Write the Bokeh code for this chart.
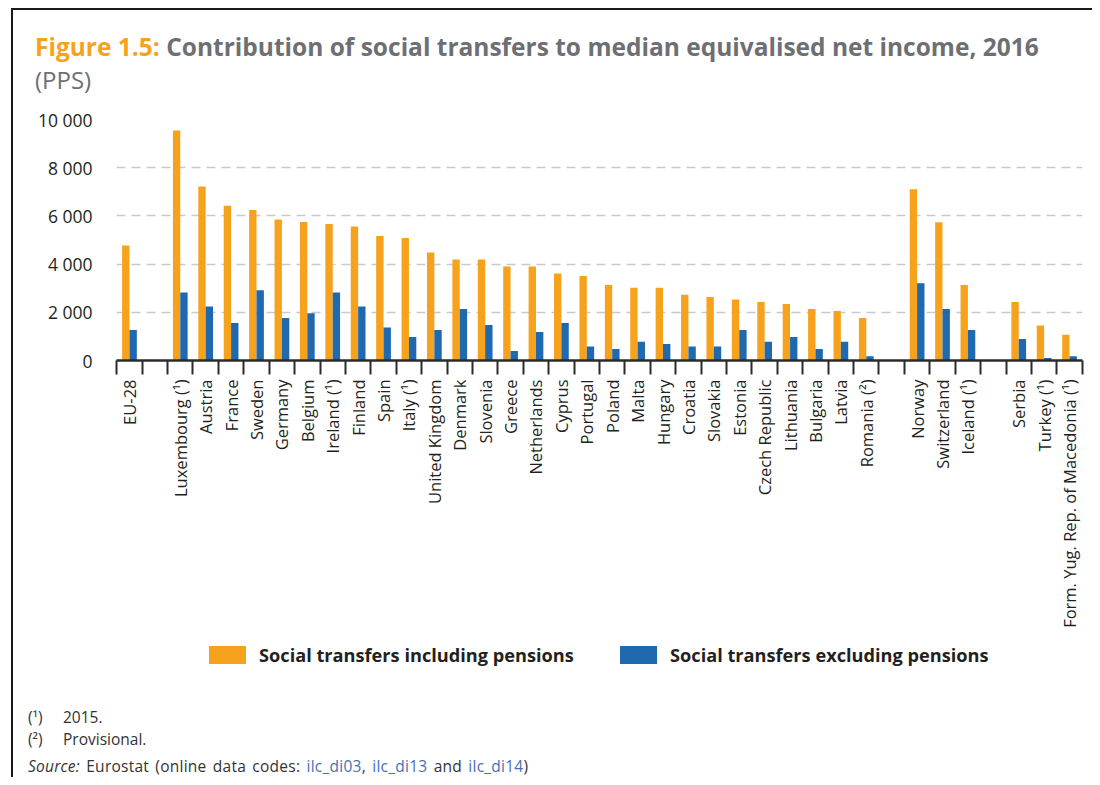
import math
from bokeh.plotting import figure
from bokeh.layouts import column
from bokeh.models import Range1d, FixedTicker, Div
from bokeh.embed import file_html
from bokeh.resources import INLINE

# ---------------- data ----------------
countries = [
    "EU-28",
    "Luxembourg (¹)", "Austria", "France", "Sweden", "Germany", "Belgium",
    "Ireland (¹)", "Finland", "Spain", "Italy (¹)", "United Kingdom", "Denmark",
    "Slovenia", "Greece", "Netherlands", "Cyprus", "Portugal", "Poland", "Malta",
    "Hungary", "Croatia", "Slovakia", "Estonia", "Czech Republic", "Lithuania",
    "Bulgaria", "Latvia", "Romania (²)",
    "Norway", "Switzerland", "Iceland (¹)",
    "Serbia", "Turkey (¹)", "Form. Yug. Rep. of Macedonia (¹)",
]
group_sizes = [1, 28, 3, 3]
incl_pensions = [
    4770,
    9540, 7220, 6420, 6240, 5850, 5750, 5660, 5560, 5170, 5080, 4480, 4190,
    4190, 3900, 3900, 3610, 3510, 3130, 3020, 3020, 2730, 2630, 2530, 2430,
    2340, 2140, 2050, 1760,
    7110, 5740, 3130,
    2430, 1450, 1070,
]
excl_pensions = [
    1270,
    2820, 2240, 1560, 2920, 1760, 1960, 2820, 2240, 1370, 970, 1270, 2140,
    1470, 390, 1180, 1560, 580, 480, 780, 680, 580, 580, 1270, 780,
    970, 480, 780, 180,
    3210, 2140, 1270,
    890, 100, 180,
]
y_ticks = [0, 2000, 4000, 6000, 8000, 10000]
y_tick_labels = ["0", "2 000", "4 000", "6 000", "8 000", "10 000"]
series_labels = ["Social transfers including pensions",
                 "Social transfers excluding pensions"]
title_fig = "Figure 1.5:"
title_main = "Contribution of social transfers to median equivalised net income, 2016"
subtitle = "(PPS)"
notes = [("(¹)", "2015."), ("(²)", "Provisional.")]

# ---------------- styling ----------------
FONT = "Open Sans"
ORANGE = "#F7A21C"
BLUE = "#1F69B1"
DARK = "#231F20"
GRAY_T = "#6E6F73"
NOTE = "#333333"
LINK = "#4A6FB5"
WIDTH = 1079
series_colors = [ORANGE, BLUE]

slots = []
pos = 0
for gi, n in enumerate(group_sizes):
    for _ in range(n):
        slots.append(pos)
        pos += 1
    if gi < len(group_sizes) - 1:
        pos += 1
n_slots = pos
centers = [s + 0.5 for s in slots]
boundaries = list(range(n_slots + 1))
bw = 0.29

# ---------------- title ----------------
title_html = (
    f'<div style="position:relative;width:{WIDTH}px;height:95px;font-family:\'{FONT}\';">'
    f'<div style="position:absolute;left:22px;top:25px;font-size:24.5px;line-height:24.5px;'
    f'font-weight:bold;color:{GRAY_T};white-space:nowrap;">'
    f'<span style="color:{ORANGE}">{title_fig}</span> {title_main}</div>'
    f'<div style="position:absolute;left:22px;top:58px;font-size:24px;line-height:24px;'
    f'color:{GRAY_T};white-space:nowrap;">{subtitle}</div>'
    '</div>'
)
title_div = Div(text=title_html, width=WIDTH, height=95, margin=0)

# ---------------- chart ----------------
p = figure(frame_width=966, frame_height=241,
           x_range=Range1d(-0.01, n_slots + 0.01), y_range=Range1d(0, 10000),
           output_backend="svg", toolbar_location=None,
           min_border_left=103, min_border_right=10,
           min_border_top=14, min_border_bottom=280)
p.outline_line_color = None

p.vbar(x=[c - bw / 2 for c in centers], top=incl_pensions, width=bw,
       fill_color=ORANGE, line_color=None)
p.vbar(x=[c + bw / 2 for c in centers], top=excl_pensions, width=bw,
       fill_color=BLUE, line_color=None)

p.xgrid.visible = False
p.ygrid.ticker = FixedTicker(ticks=y_ticks)
p.ygrid.grid_line_color = "#C8C9CE"
p.ygrid.grid_line_dash = "9 6"
p.ygrid.grid_line_width = 1.5

p.yaxis.ticker = FixedTicker(ticks=y_ticks)
p.yaxis.major_label_overrides = {t: l for t, l in zip(y_ticks, y_tick_labels)}
p.yaxis.axis_line_color = None
p.yaxis.major_tick_line_color = None
p.yaxis.minor_tick_line_color = None
p.yaxis.major_tick_out = 0
p.yaxis.major_tick_in = 0
p.yaxis.major_label_standoff = 24
p.yaxis.major_label_text_font = FONT
p.yaxis.major_label_text_font_size = "17.5px"
p.yaxis.major_label_text_color = DARK

p.xaxis.ticker = FixedTicker(ticks=centers, minor_ticks=boundaries)
p.xaxis.major_label_overrides = {c: n for c, n in zip(centers, countries)}
p.xaxis.major_label_orientation = math.pi / 2
p.xaxis.major_tick_line_color = None
p.xaxis.major_tick_out = 0
p.xaxis.major_tick_in = 0
p.xaxis.minor_tick_out = 14
p.xaxis.minor_tick_in = 0
p.xaxis.minor_tick_line_color = "#2b2b2b"
p.xaxis.minor_tick_line_width = 2
p.xaxis.axis_line_color = "#2b2b2b"
p.xaxis.axis_line_width = 2.5
p.xaxis.major_label_standoff = 5
p.xaxis.major_label_text_font = FONT
p.xaxis.major_label_text_font_size = "16.5px"
p.xaxis.major_label_text_color = DARK

# ---------------- legend + footnotes (below the chart) ----------------
FOOT_H = 137
foot_parts = [f'<div style="position:relative;width:{WIDTH}px;height:{FOOT_H}px;'
              f'font-family:\'{FONT}\';color:{NOTE};">']
legend_boxes = [196, 607]
for lab, col, x0 in zip(series_labels, series_colors, legend_boxes):
    foot_parts.append(f'<div style="position:absolute;left:{x0}px;top:6px;width:37px;'
                      f'height:18px;background:{col};"></div>')
    foot_parts.append(f'<div style="position:absolute;left:{x0 + 50}px;top:6px;'
                      f'font-size:18.2px;line-height:18px;font-weight:bold;color:{DARK};'
                      f'white-space:nowrap;">{lab}</div>')
line_tops = [70, 92]
for (mark, txt), top in zip(notes, line_tops):
    foot_parts.append(f'<div style="position:absolute;left:15px;top:{top}px;'
                      f'font-size:15.5px;line-height:14px;">{mark}</div>')
    foot_parts.append(f'<div style="position:absolute;left:50px;top:{top}px;'
                      f'font-size:15.5px;line-height:14px;">{txt}</div>')
foot_parts.append(
    '<div style="position:absolute;left:15px;top:119px;white-space:nowrap;'
    'font-size:15.5px;line-height:14px;word-spacing:2px;letter-spacing:0.25px;">'
    '<i>Source:</i> Eurostat (online data codes: '
    f'<span style="color:{LINK}">ilc_di03</span>, '
    f'<span style="color:{LINK}">ilc_di13</span> and '
    f'<span style="color:{LINK}">ilc_di14</span>)</div>')
foot_parts.append('</div>')
foot_div = Div(text="".join(foot_parts), width=WIDTH, height=FOOT_H, margin=0)

layout = column(title_div, p, foot_div, spacing=0)
layout.styles = {"border-left": "2px solid #1a1a1a", "border-top": "2px solid #1a1a1a",
                 "margin-left": "11px", "margin-top": "8px"}

open("out.html", "w").write(file_html(layout, INLINE))
